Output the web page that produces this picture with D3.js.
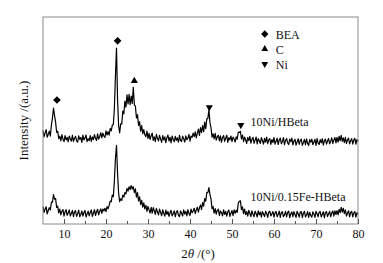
<!DOCTYPE html>
<html>
<head>
<meta charset="utf-8">
<script src="https://cdn.jsdelivr.net/npm/d3@7"></script>
<style>
  body { margin: 0; background: #fff; }
  svg text { font-family: "Liberation Serif", "Times New Roman", "DejaVu Serif", serif; }
</style>
</head>
<body>
<div id="chart"></div>
<script>
// 2theta grid: 5 to 80 deg, step 0.25
let x_start = 5, x_step = 0.25

// 10Ni/HBeta (upper curve), intensity a.u.
let top_series = [
  45.2, 42.1, 44.0, 45.6, 41.9, 43.3, 44.9, 42.4,
  47.8, 51.2, 56.0, 52.4, 49.2, 44.3, 44.8, 41.2,
  42.4, 40.1, 43.2, 41.0, 39.8, 42.7, 40.6, 41.9,
  39.7, 42.5, 41.2, 40.0, 42.8, 39.9, 41.4, 42.3,
  40.2, 39.5, 42.6, 40.9, 41.8, 39.4, 42.9, 40.6,
  41.5, 43.0, 39.8, 41.2, 40.3, 42.7, 39.9, 42.1,
  40.7, 43.2, 41.4, 40.4, 43.5, 41.0, 42.2, 44.1,
  41.6, 43.9, 42.5, 41.8, 45.0, 43.0, 44.6, 42.9,
  46.2, 45.0, 47.8, 48.1, 56.0, 71.5, 85.0, 60.2,
  47.6, 44.0, 48.4, 48.3, 54.6, 53.2, 59.4, 56.5,
  62.4, 58.0, 62.6, 57.6, 61.8, 58.2, 66.0, 57.6,
  56.9, 51.2, 52.8, 47.6, 49.4, 44.8, 47.5, 43.6,
  45.6, 43.1, 42.2, 44.9, 41.3, 43.8, 40.9, 42.6,
  43.9, 40.4, 42.1, 39.8, 43.3, 41.5, 40.1, 42.8,
  41.0, 39.4, 42.7, 40.6, 42.1, 39.3, 41.7, 43.0,
  40.1, 41.9, 39.2, 42.5, 40.8, 39.7, 42.3, 40.4,
  41.6, 39.5, 42.8, 40.3, 39.9, 42.4, 41.1, 39.6,
  42.6, 40.7, 41.4, 43.3, 40.0, 42.5, 41.8, 43.9,
  42.2, 44.5, 41.6, 43.9, 45.8, 42.8, 46.6, 44.2,
  47.5, 44.6, 49.2, 46.0, 50.8, 51.0, 55.2, 49.0,
  46.5, 42.0, 43.6, 41.1, 43.8, 40.5, 42.1, 42.9,
  40.1, 42.6, 39.5, 41.8, 42.7, 39.9, 41.4, 42.9,
  39.4, 41.7, 40.6, 42.5, 39.8, 42.0, 41.1, 39.6,
  42.1, 41.0, 44.4, 44.2, 44.8, 41.1, 42.9, 39.8,
  42.0, 40.6, 38.9, 41.8, 40.3, 42.3, 39.1, 40.9,
  41.9, 39.0, 40.5, 42.0, 38.7, 41.3, 40.1, 38.9,
  41.7, 40.2, 38.6, 41.4, 39.5, 42.0, 38.8, 40.7,
  41.2, 38.5, 40.8, 39.3, 41.8, 38.6, 40.0, 41.4,
  38.4, 40.6, 41.5, 38.8, 39.9, 41.7, 38.3, 40.4,
  41.3, 39.2, 38.4, 41.0, 39.8, 41.5, 38.2, 40.1,
  40.9, 38.1, 39.7, 41.2, 38.5, 40.4, 41.0, 38.0,
  39.3, 40.9, 38.2, 41.1, 39.0, 37.9, 40.8, 39.5,
  41.0, 38.3, 39.6, 40.9, 38.0, 41.3, 39.1, 38.4,
  40.8, 39.2, 41.2, 38.1, 40.3, 41.0, 38.6, 40.1,
  41.3, 38.7, 39.9, 41.6, 38.9, 40.5, 41.8, 39.2,
  41.9, 39.6, 42.4, 40.2, 42.8, 40.0, 41.6, 39.3,
  41.9, 38.9, 40.6, 41.5, 38.7, 40.2, 41.3, 38.6,
  40.5, 41.4, 38.6, 40.8, 40.0
]

// 10Ni/0.15Fe-HBeta (lower curve)
let bottom_series = [
  8.4, 5.6, 7.2, 8.3, 4.9, 6.5, 7.9, 6.8,
  10.6, 10.5, 14.2, 12.0, 12.3, 8.0, 8.6, 5.4,
  7.2, 4.4, 6.1, 7.0, 3.8, 5.9, 6.9, 4.2,
  5.3, 6.8, 3.9, 5.1, 6.6, 3.6, 5.8, 6.4,
  3.7, 5.0, 6.7, 3.5, 4.6, 6.3, 3.8, 5.5,
  6.5, 3.4, 4.9, 6.2, 3.9, 5.6, 6.8, 3.7,
  5.2, 6.9, 4.1, 5.9, 7.1, 4.4, 6.2, 7.3,
  5.1, 7.2, 6.3, 7.6, 6.0, 8.4, 7.4, 9.0,
  11.1, 10.8, 14.0, 13.2, 21.0, 31.8, 38.0, 24.5,
  15.0, 10.8, 12.2, 11.4, 14.0, 13.0, 15.2, 14.6,
  17.2, 15.9, 18.0, 16.6, 18.6, 16.9, 18.0, 15.2,
  17.0, 13.0, 15.2, 11.2, 13.1, 9.4, 11.4, 8.1,
  10.2, 7.3, 9.0, 6.1, 8.5, 6.8, 5.3, 8.1,
  5.2, 7.9, 6.4, 4.6, 7.5, 5.8, 4.4, 7.2,
  5.6, 4.0, 6.9, 5.2, 3.8, 6.7, 4.6, 6.1,
  3.7, 5.4, 6.6, 3.9, 5.0, 6.4, 3.5, 5.7,
  6.5, 4.2, 3.6, 6.3, 5.1, 3.9, 6.8, 4.8,
  6.1, 3.9, 6.9, 5.0, 4.1, 7.2, 5.4, 6.3,
  7.6, 5.0, 6.8, 8.1, 5.7, 7.9, 9.2, 6.9,
  10.3, 8.6, 12.3, 11.0, 15.2, 15.1, 17.6, 14.2,
  12.0, 7.4, 8.4, 5.2, 7.4, 4.8, 6.6, 7.2,
  4.1, 6.3, 5.4, 3.9, 6.8, 4.6, 6.1, 3.8,
  5.9, 6.7, 3.7, 5.2, 6.5, 4.0, 6.8, 5.1,
  6.7, 5.6, 10.2, 11.0, 11.2, 6.9, 8.3, 5.0,
  7.2, 4.5, 6.0, 3.8, 6.6, 5.2, 3.6, 6.4,
  4.7, 3.5, 6.2, 5.0, 3.4, 6.3, 4.4, 5.8,
  3.3, 6.0, 4.8, 3.6, 6.1, 5.1, 3.2, 5.7,
  6.2, 3.9, 4.9, 6.0, 3.3, 5.4, 6.1, 3.5,
  4.7, 6.2, 3.2, 5.5, 6.0, 3.6, 4.4, 6.1,
  3.4, 5.6, 6.2, 3.1, 4.9, 5.8, 3.5, 6.0,
  4.6, 3.2, 6.1, 5.0, 3.3, 5.7, 6.0, 3.1,
  5.2, 6.1, 3.4, 4.5, 6.0, 3.2, 5.6, 4.1,
  3.3, 5.9, 4.8, 3.2, 6.1, 5.0, 3.5, 5.7,
  6.0, 3.4, 4.7, 5.9, 3.1, 5.5, 6.0, 3.6,
  4.9, 6.1, 3.5, 5.3, 6.3, 3.8, 6.4, 4.6,
  6.5, 4.4, 7.1, 5.5, 8.0, 5.7, 7.6, 5.0,
  6.8, 3.9, 5.2, 6.4, 3.5, 5.6, 6.1, 3.4,
  5.4, 6.0, 3.3, 5.5, 4.7
]

// phase markers placed over the peaks of the upper curve
let marker_x = [8.33, 22.76, 26.74, 44.6, 52.1]
let marker_y = [59.9, 88.5, 69.1, 56.4, 47.8]
let marker_phase = ["BEA", "BEA", "C", "Ni", "Ni"]

let legend_items = ["BEA", "C", "Ni"]
let series_names = ["10Ni/HBeta", "10Ni/0.15Fe-HBeta"]
let series_label_pos = [[54.4, 47.2], [54.4, 10.9]]

let major_ticks = [10, 20, 30, 40, 50, 60, 70, 80]
let minor_ticks = [15, 25, 35, 45, 55, 65, 75]

let font = '"Liberation Serif", "Times New Roman", serif'

let margin = {top: 17, right: 25, bottom: 39, left: 43},
    rwidth = 383, rheight = 263,
    width = rwidth - margin.left - margin.right,
    height = rheight - margin.top - margin.bottom;

let svg = d3.select("#chart")
    .append("svg")
    .attr("width", rwidth)
    .attr("height", rheight)
    .append("g")
    .attr("transform", "translate(" + margin.left + "," + margin.top + ")");

let x = d3.scaleLinear().domain([5, 80]).range([0, width])
let y = d3.scaleLinear().domain([0, 100]).range([height, 0])

let to_points = vals => vals.map((v, i) => [x_start + i * x_step, v])

let line = d3.line()
    .x(d => x(d[0]))
    .y(d => y(d[1]))

svg.selectAll("path.trace")
    .data([to_points(top_series), to_points(bottom_series)])
    .enter()
    .append("path")
    .attr("class", "trace")
    .attr("d", line)
    .attr("fill", "none")
    .attr("stroke", "#000")
    .attr("stroke-width", 1.2)
    .attr("stroke-linejoin", "round")

// frame
svg.append("rect")
    .attr("x", 0).attr("y", 0)
    .attr("width", width).attr("height", height)
    .attr("fill", "none")
    .attr("stroke", "#8a8a8a")
    .attr("stroke-width", 1)

// ticks point inward
let xaxis = svg.append("g")
    .attr("transform", "translate(0," + height + ")")
    .call(d3.axisBottom(x).tickValues(major_ticks).tickSizeInner(-5).tickSizeOuter(0).tickPadding(5))
    .attr("font-family", font)
    .attr("font-size", 12)
xaxis.select(".domain").remove()
xaxis.selectAll("line").attr("stroke", "#555")
xaxis.selectAll("text").attr("fill", "#111")

let minor = svg.append("g")
    .attr("transform", "translate(0," + height + ")")
    .call(d3.axisBottom(x).tickValues(minor_ticks).tickSizeInner(-3).tickSizeOuter(0).tickFormat(""))
minor.select(".domain").remove()
minor.selectAll("line").attr("stroke", "#555")

// axis titles
let xt = svg.append("text")
    .attr("x", x(41.9))
    .attr("y", height + 34)
    .attr("text-anchor", "middle")
    .attr("font-family", font)
    .attr("font-size", 13)
    .attr("fill", "#111")
xt.append("tspan").text("2")
xt.append("tspan").attr("font-style", "italic").text("θ")
xt.append("tspan").text(" /(°)")

svg.append("text")
    .attr("transform", "translate(" + (-15) + "," + (height / 2) + ") rotate(-90)")
    .attr("text-anchor", "middle")
    .attr("font-family", font)
    .attr("font-size", 13)
    .attr("fill", "#111")
    .text("Intensity /(a.u.)")

// symbols
let sym = function(phase, size) {
    if (phase == "BEA") return d3.symbol().type(d3.symbolDiamond2).size(size * 1.7)()
    return d3.symbol().type(d3.symbolTriangle).size(size)()
}
let rot = phase => phase == "Ni" ? " rotate(180)" : ""

svg.selectAll("path.marker")
    .data(marker_x.map((d, i) => ({x: d, y: marker_y[i], phase: marker_phase[i]})))
    .enter()
    .append("path")
    .attr("class", "marker")
    .attr("d", d => sym(d.phase, 22))
    .attr("transform", d => "translate(" + x(d.x) + "," + y(d.y) + ")" + rot(d.phase))
    .attr("fill", "#000")

// legend
let legend = svg.append("g").attr("transform", "translate(" + (x(57.8)) + ",17)")
legend_items.forEach((name, i) => {
    legend.append("path")
        .attr("d", sym(name, 20))
        .attr("transform", "translate(0," + (i * 15) + ")" + rot(name))
        .attr("fill", "#000")
    legend.append("text")
        .attr("x", 11)
        .attr("y", i * 15 + 4.5)
        .attr("font-family", font)
        .attr("font-size", 12)
        .attr("fill", "#111")
        .text(name)
})

// series labels
svg.selectAll("text.series")
    .data(series_names)
    .enter()
    .append("text")
    .attr("class", "series")
    .attr("x", (d, i) => x(series_label_pos[i][0]))
    .attr("y", (d, i) => y(series_label_pos[i][1]))
    .attr("font-family", font)
    .attr("font-size", 12)
    .attr("fill", "#111")
    .text(d => d)
</script>
</body>
</html>
